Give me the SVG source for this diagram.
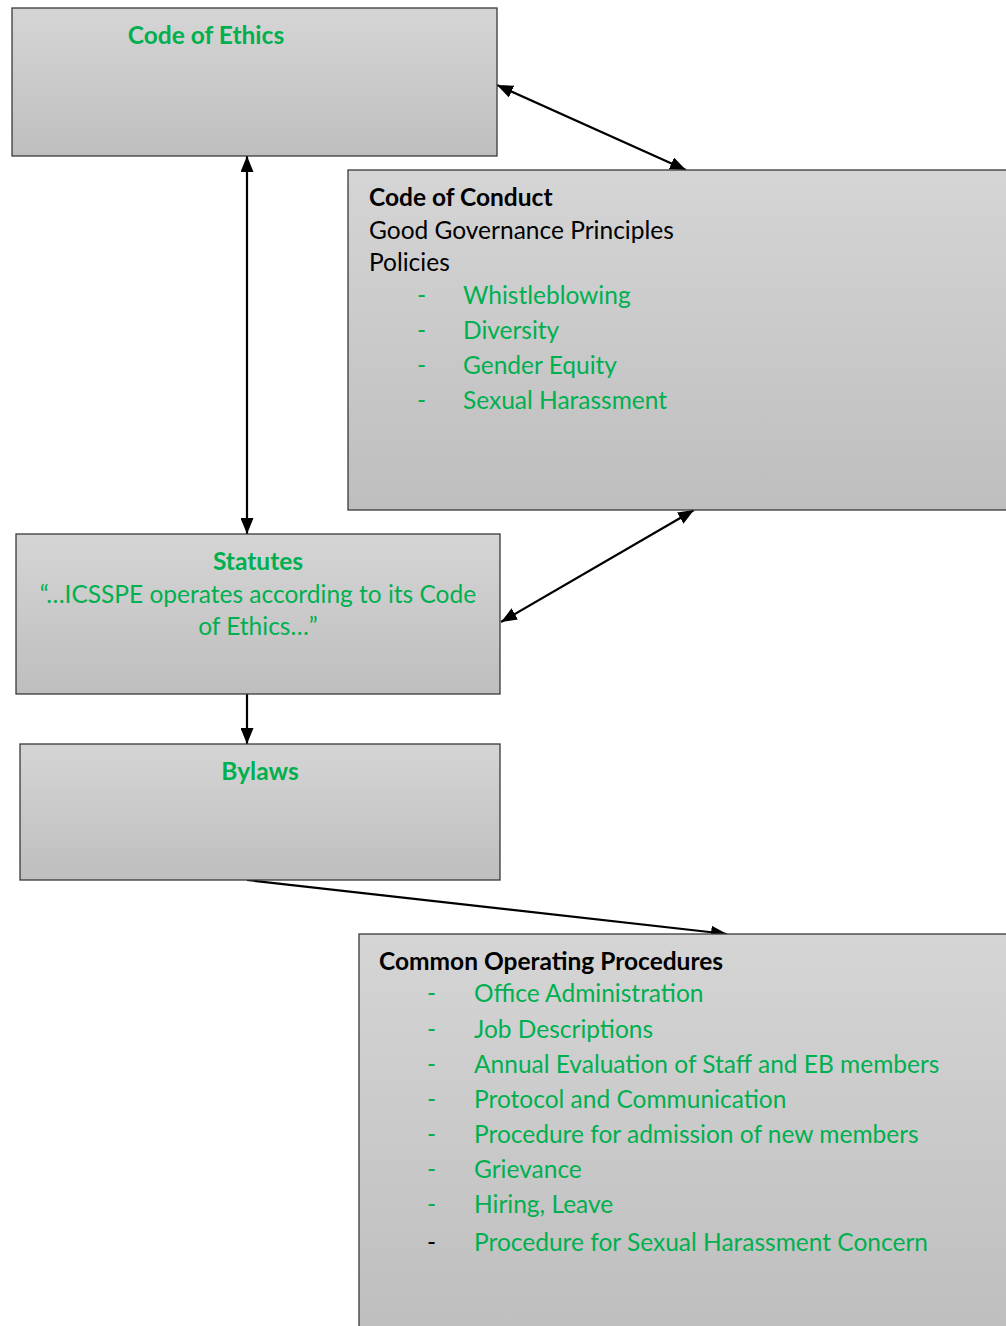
<svg xmlns="http://www.w3.org/2000/svg" width="1006" height="1326" viewBox="0 0 1006 1326">
<defs>
<linearGradient id="g" x1="0" y1="0" x2="0" y2="1">
<stop offset="0" stop-color="#d5d5d5"/>
<stop offset="1" stop-color="#bebebe"/>
</linearGradient>
<marker id="ah" viewBox="0 0 16 13" refX="16" refY="6.5" markerWidth="16" markerHeight="13" markerUnits="userSpaceOnUse" orient="auto-start-reverse">
<path d="M0,0 L16,6.5 L0,13 Z" fill="#000"/>
</marker>
<style>
.box{fill:url(#g);stroke:#3a3a3a;stroke-width:1.3}
text{font-family:Lato,"Liberation Sans",sans-serif;font-size:24.5px}
.b{font-weight:bold}
.gr{fill:#00b050}
.bk{fill:#000}
.c{text-anchor:middle}
.con{stroke:#000;stroke-width:2.2;fill:none}
</style>
</defs>
<g id="connectors">
<line class="con" x1="497" y1="85" x2="686" y2="170" marker-start="url(#ah)" marker-end="url(#ah)"/>
<line class="con" x1="247" y1="156" x2="247" y2="534" marker-start="url(#ah)" marker-end="url(#ah)"/>
<line class="con" x1="694" y1="510" x2="501" y2="622" marker-start="url(#ah)" marker-end="url(#ah)"/>
<line class="con" x1="247" y1="694" x2="247" y2="744" marker-end="url(#ah)"/>
<line class="con" x1="247" y1="880" x2="727" y2="934" marker-end="url(#ah)"/>
</g>
<g id="code-of-ethics">
<rect class="box" x="12" y="8" width="485" height="148"/>
<text class="b gr c" x="206" y="44">Code of Ethics</text>
</g>
<g id="code-of-conduct">
<rect class="box" x="348" y="170" width="670" height="340"/>
<text class="b bk" x="369" y="206">Code of Conduct</text>
<text class="bk" x="369" y="239">Good Governance Principles</text>
<text class="bk" x="369" y="271">Policies</text>
<text class="gr" x="417" y="304">-</text><text class="gr" x="463" y="304">Whistleblowing</text>
<text class="gr" x="417" y="339">-</text><text class="gr" x="463" y="339">Diversity</text>
<text class="gr" x="417" y="374">-</text><text class="gr" x="463" y="374">Gender Equity</text>
<text class="gr" x="417" y="409">-</text><text class="gr" x="463" y="409">Sexual Harassment</text>
</g>
<g id="statutes">
<rect class="box" x="16" y="534" width="484" height="160"/>
<text class="b gr c" x="258" y="570">Statutes</text>
<text class="gr c" x="258" y="603">“…ICSSPE operates according to its Code</text>
<text class="gr c" x="258" y="635">of Ethics…”</text>
</g>
<g id="bylaws">
<rect class="box" x="20" y="744" width="480" height="136"/>
<text class="b gr c" x="260" y="780">Bylaws</text>
</g>
<g id="common-operating-procedures">
<rect class="box" x="359" y="934" width="660" height="400"/>
<text class="b bk" x="379" y="970">Common Operating Procedures</text>
<text class="gr" x="427" y="1002">-</text><text class="gr" x="474" y="1002">Office Administration</text>
<text class="gr" x="427" y="1038">-</text><text class="gr" x="474" y="1038">Job Descriptions</text>
<text class="gr" x="427" y="1073">-</text><text class="gr" x="474" y="1073">Annual Evaluation of Staff and EB members</text>
<text class="gr" x="427" y="1108">-</text><text class="gr" x="474" y="1108">Protocol and Communication</text>
<text class="gr" x="427" y="1143">-</text><text class="gr" x="474" y="1143">Procedure for admission of new members</text>
<text class="gr" x="427" y="1178">-</text><text class="gr" x="474" y="1178">Grievance</text>
<text class="gr" x="427" y="1213">-</text><text class="gr" x="474" y="1213">Hiring, Leave</text>
<text class="bk" x="427" y="1251">-</text><text class="gr" x="474" y="1251">Procedure for Sexual Harassment Concern</text>
</g>
</svg>
